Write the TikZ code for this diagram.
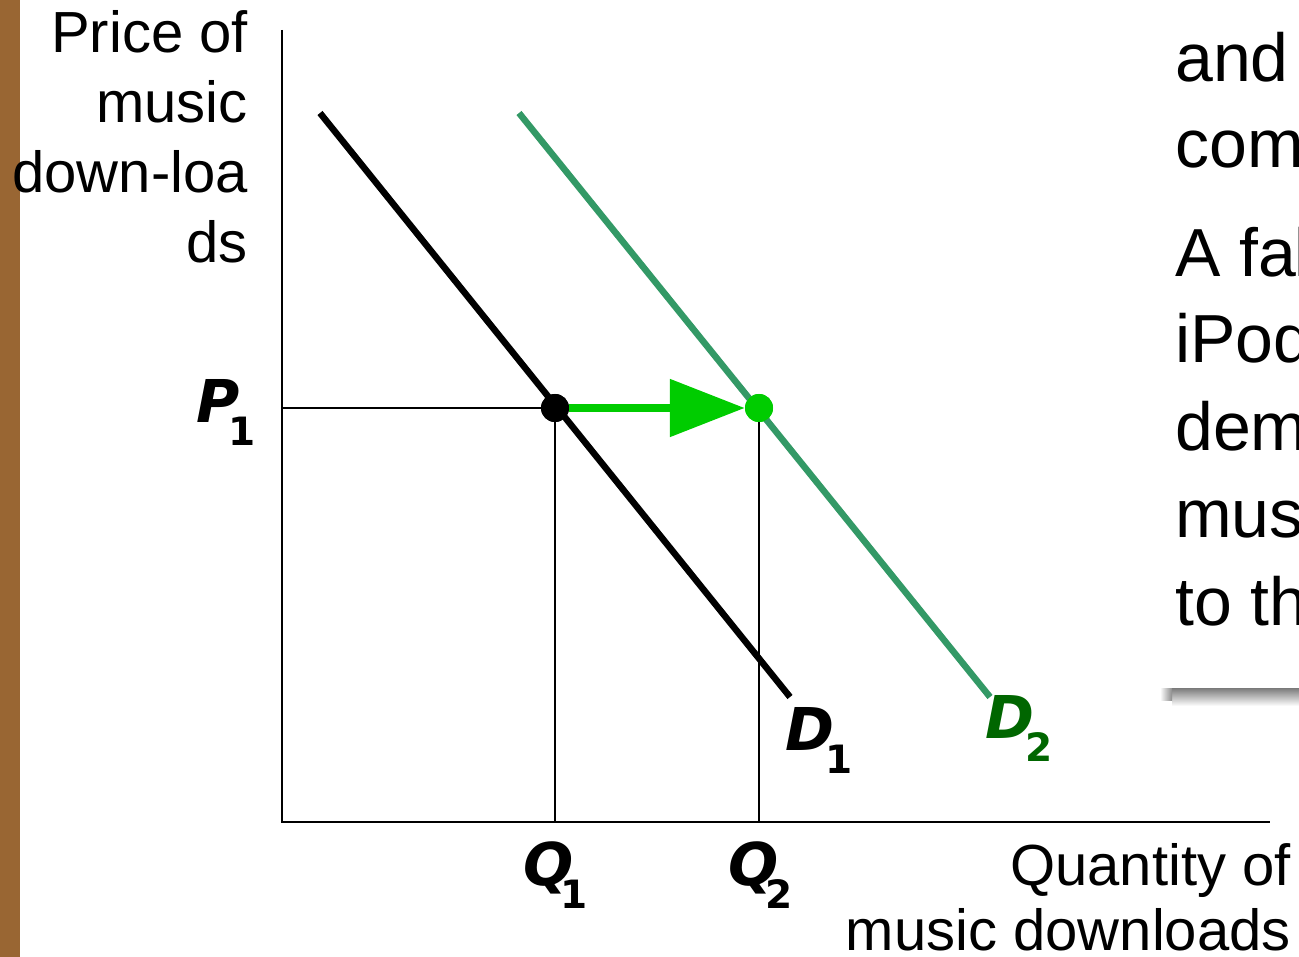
\documentclass[tikz,border=0pt]{standalone}
\usepackage{fontspec}
\setmainfont{Liberation Sans}
\newfontfamily\lblfont{DejaVu Sans}
\usetikzlibrary{arrows.meta}
\definecolor{brownbar}{RGB}{153,102,51}
\definecolor{dtwo}{RGB}{51,153,102}
\definecolor{dtwolbl}{RGB}{0,102,0}
\definecolor{brightgreen}{RGB}{0,204,0}
\newcommand{\mainL}[1]{{\lblfont\bfseries\itshape\fontsize{59}{64}\selectfont #1}}
\newcommand{\subL}[1]{\raisebox{-23pt}{\lblfont\bfseries\fontsize{39}{44}\selectfont #1}}
\begin{document}
\begin{tikzpicture}[x=1pt,y=-1pt,
  axis/.style={line width=2.5pt,black},
  guide/.style={line width=1.5pt,black},
  curveone/.style={line width=6.5pt,black},
  curvetwo/.style={line width=6.5pt,dtwo},
  ylbl/.style={font=\fontsize{58}{68}\selectfont,inner sep=0pt,anchor=base east},
  xlbl/.style={font=\fontsize{58}{68}\selectfont,inner sep=0pt,anchor=base east},
  sidetxt/.style={font=\fontsize{68}{80}\selectfont,inner sep=0pt,anchor=base west},
  curvelbl/.style={inner sep=0pt,anchor=base west},
  dot/.style={circle,inner sep=0pt,minimum size=28pt}
]
\useasboundingbox (0,0) rectangle (1299,957);
\fill[brownbar] (0,0) rectangle (20,957);

% axes
\coordinate (O) at (282,822);
\coordinate (ytop) at (282,30);
\coordinate (xend) at (1270,822);
\draw[axis] (ytop) -- (O) -- (xend);

% y-axis label
\node[ylbl] (yl1) at (248,53) {Price of};
\node[ylbl] (yl2) at (248,123) {music};
\node[ylbl] (yl3) at (248,193) {down-loa};
\node[ylbl] (yl4) at (248,263) {ds};

% x-axis label
\node[xlbl] (xl1) at (1291,885) {Quantity of};
\node[xlbl] (xl2) at (1291,950) {music downloads};

% demand curves
\coordinate (d1a) at (320,113);
\coordinate (d1b) at (790,697);
\coordinate (d2a) at (519,113);
\coordinate (d2b) at (990,697);

% guides
\coordinate (p1y) at (282,408);
\coordinate (q1x) at (555,822);
\coordinate (q2x) at (759,822);
\node[dot,fill=black] (e1) at (555,408) {};
\node[dot,fill=brightgreen] (e2) at (759,408) {};
\draw[guide] (p1y) -- (e1.center) -- (q1x);
\draw[guide] (e2.center) -- (q2x);

\draw[curvetwo] (d2a) -- (d2b);
\draw[curveone] (d1a) -- (d1b);
\node[dot,fill=black] at (e1) {};
\node[dot,fill=brightgreen] at (e2) {};

% shift arrow
\draw[brightgreen,line width=8.5pt,-{Triangle[length=75pt,width=56pt]}] (e1.east) -- (e2.west);

% curve / point labels
\node[curvelbl] (p1) at (196,423) {\mainL{P}\kern-11pt\subL{1}};
\node[curvelbl] (dl1) at (785,750) {\mainL{D}\kern-9pt\subL{1}};
\node[curvelbl,text=dtwolbl] (dl2) at (985,738) {\mainL{D}\kern-9pt\subL{2}};
\node[curvelbl] (ql1) at (523,885) {\mainL{Q}\kern-13pt\subL{1}};
\node[curvelbl] (ql2) at (728,885) {\mainL{Q}\kern-13pt\subL{2}};

% clipped side text box
\begin{scope}
\clip (1100,0) rectangle (1299,957);
\node[sidetxt] (s1) at (1175,82) {and};
\node[sidetxt] (s2) at (1175,168) {com};
\node[sidetxt] (s3) at (1175,277) {A fa\kern-2pt ll};
\node[sidetxt] (s4) at (1175,363) {iPod};
\node[sidetxt] (s5) at (1175,450) {dem};
\node[sidetxt] (s6) at (1175,537) {mus};
\node[sidetxt] (s7) at (1175,625) {to th};
\shade[top color=black!52,bottom color=white] (1172,688) rectangle (1299,706);
\shade[left color=white,right color=black!45] (1160,688) rectangle (1172,700);
\end{scope}
\end{tikzpicture}
\end{document}
